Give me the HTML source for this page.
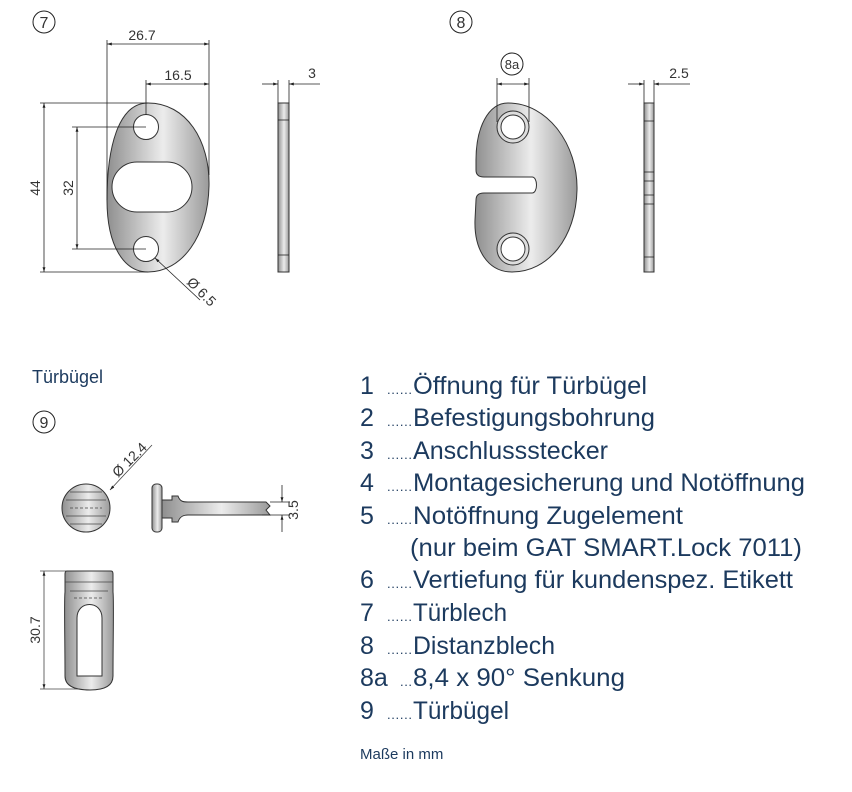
<!DOCTYPE html>
<html><head><meta charset="utf-8"><style>
html,body{margin:0;padding:0;background:#fff;width:852px;height:792px;overflow:hidden}
svg{display:block}
.t{font-family:"Liberation Sans",sans-serif;fill:#1c3a5e}
.d{font-family:"Liberation Sans",sans-serif;fill:#333;font-size:14px}
</style></head><body>
<svg width="852" height="792" viewBox="0 0 852 792" xmlns="http://www.w3.org/2000/svg">
<defs>
<linearGradient id="g" x1="0" x2="1" y1="0" y2="0">
<stop offset="0" stop-color="#8f8f8f"/><stop offset="0.55" stop-color="#ececec"/><stop offset="1" stop-color="#9a9a9a"/>
</linearGradient>
<marker id="a" viewBox="0 0 10 10" refX="10" refY="5" markerWidth="6" markerHeight="6" orient="auto-start-reverse"><path d="M0,2 L10,5 L0,8 z" fill="#222"/></marker>
</defs>
<g stroke="#222" stroke-width="1" fill="none">
<circle cx="44" cy="22" r="11"/><circle cx="461" cy="22" r="11"/><circle cx="512" cy="64" r="11"/><circle cx="44" cy="422" r="11"/>
</g>
<g class="d" fill="#333" text-anchor="middle">
<text x="44" y="28" style="font-size:16px">7</text>
<text x="461" y="28" style="font-size:16px">8</text>
<text x="512" y="69" style="font-size:13px">8a</text>
<text x="44" y="428" style="font-size:16px">9</text>
</g>

<!-- Part 7 -->
<path d="M148,103 C186,103 210,140 209,186 C208,236 182,272 148,272 C124,272 107,246 107,200 C107,148 118,103 148,103 Z" fill="url(#g)" stroke="#333"/>
<circle cx="146" cy="127" r="12.5" fill="#fff" stroke="#333"/>
<circle cx="146" cy="249" r="12.5" fill="#fff" stroke="#333"/>
<rect x="112" y="162" width="80" height="50" rx="25" fill="#fff" stroke="#333"/>
<g stroke="#222" stroke-width="0.8" fill="none">
<line x1="107" y1="40" x2="107" y2="200"/><line x1="209" y1="40" x2="209" y2="175"/>
<line x1="107" y1="44" x2="209" y2="44" marker-start="url(#a)" marker-end="url(#a)"/>
<line x1="146" y1="80" x2="146" y2="115"/>
<line x1="146" y1="84" x2="209" y2="84" marker-start="url(#a)" marker-end="url(#a)"/>
<line x1="40" y1="103" x2="148" y2="103"/><line x1="40" y1="272" x2="148" y2="272"/>
<line x1="44" y1="103" x2="44" y2="272" marker-start="url(#a)" marker-end="url(#a)"/>
<line x1="72" y1="127" x2="146" y2="127"/><line x1="72" y1="249" x2="146" y2="249"/>
<line x1="77" y1="127" x2="77" y2="249" marker-start="url(#a)" marker-end="url(#a)"/>
<line x1="200" y1="300" x2="155" y2="258" marker-end="url(#a)"/>
</g>
<text class="d" x="142" y="40" text-anchor="middle">26.7</text>
<text class="d" x="178" y="80" text-anchor="middle">16.5</text>
<text class="d" transform="translate(40,188) rotate(-90)" text-anchor="middle">44</text>
<text class="d" transform="translate(73,188) rotate(-90)" text-anchor="middle">32</text>
<text class="d" transform="translate(186,283) rotate(45)">Ø 6.5</text>

<rect x="278" y="103" width="11" height="169" fill="url(#g)" stroke="#333"/>
<g stroke="#222" stroke-width="0.8">
<line x1="278" y1="120" x2="289" y2="120"/><line x1="278" y1="255" x2="289" y2="255"/>
<line x1="278" y1="80" x2="278" y2="103"/><line x1="289" y1="80" x2="289" y2="103"/>
<line x1="262" y1="84" x2="278" y2="84" marker-end="url(#a)"/><line x1="320" y1="84" x2="289" y2="84" marker-end="url(#a)"/>
</g>
<text class="d" x="312" y="78" text-anchor="middle">3</text>

<!-- Part 8 -->
<path d="M508,103 C548,103 578,145 577,190 C576,238 548,272 512,272 C488,272 474,250 475,220 L476,200 C476,195 479,193 484,193 L532,193 C538,193 538,177 532,177 L484,177 C479,177 476,175 476,170 L476,160 C476,128 488,103 508,103 Z" fill="url(#g)" stroke="#333"/>
<circle cx="513" cy="127" r="16" fill="#ddd" stroke="#333"/><circle cx="513" cy="127" r="12" fill="#fff" stroke="#333"/>
<circle cx="513" cy="249" r="16" fill="#ddd" stroke="#333"/><circle cx="513" cy="249" r="12" fill="#fff" stroke="#333"/>
<g stroke="#222" stroke-width="0.8">
<line x1="497" y1="78" x2="497" y2="122"/><line x1="529" y1="78" x2="529" y2="122"/>
<line x1="497" y1="84" x2="529" y2="84" marker-start="url(#a)" marker-end="url(#a)"/>
</g>
<rect x="644" y="103" width="10" height="169" fill="url(#g)" stroke="#333"/>
<g stroke="#222" stroke-width="0.8">
<line x1="644" y1="121" x2="654" y2="121"/><line x1="644" y1="172" x2="654" y2="172"/><line x1="644" y1="181" x2="654" y2="181"/>
<line x1="644" y1="195" x2="654" y2="195"/><line x1="644" y1="204" x2="654" y2="204"/><line x1="644" y1="257" x2="654" y2="257"/>
<line x1="644" y1="80" x2="644" y2="103"/><line x1="654" y1="80" x2="654" y2="103"/>
<line x1="628" y1="84" x2="644" y2="84" marker-end="url(#a)"/><line x1="690" y1="84" x2="654" y2="84" marker-end="url(#a)"/>
</g>
<text class="d" x="679" y="78" text-anchor="middle">2.5</text>

<!-- Türbügel -->
<text class="t" x="32" y="383" style="font-size:18px">Türbügel</text>
<circle cx="86" cy="508" r="24" fill="url(#g)" stroke="#333"/>
<g stroke="#444" stroke-width="0.8" fill="none">
<line x1="70" y1="492" x2="102" y2="492"/><line x1="66" y1="500" x2="106" y2="500"/>
<line x1="66" y1="516" x2="106" y2="516"/><line x1="70" y1="524" x2="102" y2="524"/>
<line x1="70" y1="508" x2="102" y2="508" stroke-dasharray="3,2"/>
<line x1="152" y1="445" x2="110" y2="490" marker-end="url(#a)"/>
</g>
<text class="d" transform="translate(118,478) rotate(-45)">Ø 12.4</text>
<rect x="152" y="484" width="10" height="48" rx="4" fill="url(#g)" stroke="#333"/>
<path d="M162,500 L172,500 L172,496 L178,496 C180,502 184,502 188,502 L266,502 L270,506 L266,510 L270,515 L188,515 C184,515 180,516 178,522 L172,522 L172,518 L162,518 Z" fill="url(#g)" stroke="#333"/>
<g stroke="#222" stroke-width="0.8">
<line x1="270" y1="502" x2="290" y2="502"/><line x1="262" y1="515" x2="290" y2="515"/>
<line x1="282" y1="485" x2="282" y2="502" marker-end="url(#a)"/><line x1="282" y1="532" x2="282" y2="515" marker-end="url(#a)"/>
</g>
<text class="d" transform="translate(298,510) rotate(-90)" text-anchor="middle">3.5</text>
<path d="M67,571 L111,571 C113,571 113,573 113,575 L113,592 C114,600 113,640 113,676 C113,686 104,690 90,690 C74,690 65,686 65,676 C65,640 64,600 65,592 L65,575 C65,573 65,571 67,571 Z" fill="url(#g)" stroke="#333"/>
<path d="M77,676 L77,618 C77,600 102,600 102,618 L102,676 Z" fill="#fff" stroke="#333"/>
<g stroke="#444" stroke-width="0.8" fill="none">
<line x1="65" y1="582" x2="113" y2="582"/><line x1="70" y1="591" x2="108" y2="591"/>
<line x1="74" y1="598" x2="104" y2="598" stroke-dasharray="3,2"/>
<line x1="40" y1="571" x2="67" y2="571"/><line x1="40" y1="689" x2="80" y2="689"/>
<line x1="44" y1="571" x2="44" y2="689" marker-start="url(#a)" marker-end="url(#a)"/>
</g>
<text class="d" transform="translate(40,630) rotate(-90)" text-anchor="middle">30.7</text>

<!-- legend -->
<g class="t" style="font-size:25px">
<text x="360" y="394">1</text><text x="387" y="394" style="font-size:13px" textLength="25" lengthAdjust="spacing">......</text><text x="413" y="394" textLength="234" lengthAdjust="spacingAndGlyphs">Öffnung für Türbügel</text>
<text x="360" y="426">2</text><text x="387" y="426" style="font-size:13px" textLength="25" lengthAdjust="spacing">......</text><text x="413" y="426" textLength="242" lengthAdjust="spacingAndGlyphs">Befestigungsbohrung</text>
<text x="360" y="459">3</text><text x="387" y="459" style="font-size:13px" textLength="25" lengthAdjust="spacing">......</text><text x="413" y="459" textLength="195" lengthAdjust="spacingAndGlyphs">Anschlussstecker</text>
<text x="360" y="491">4</text><text x="387" y="491" style="font-size:13px" textLength="25" lengthAdjust="spacing">......</text><text x="413" y="491" textLength="392" lengthAdjust="spacingAndGlyphs">Montagesicherung und Notöffnung</text>
<text x="360" y="524">5</text><text x="387" y="524" style="font-size:13px" textLength="25" lengthAdjust="spacing">......</text><text x="413" y="524" textLength="270" lengthAdjust="spacingAndGlyphs">Notöffnung Zugelement</text>
<text x="410" y="556" textLength="392" lengthAdjust="spacingAndGlyphs">(nur beim GAT SMART.Lock 7011)</text>
<text x="360" y="588">6</text><text x="387" y="588" style="font-size:13px" textLength="25" lengthAdjust="spacing">......</text><text x="413" y="588" textLength="380" lengthAdjust="spacingAndGlyphs">Vertiefung für kundenspez. Etikett</text>
<text x="360" y="621">7</text><text x="387" y="621" style="font-size:13px" textLength="25" lengthAdjust="spacing">......</text><text x="413" y="621" textLength="94" lengthAdjust="spacingAndGlyphs">Türblech</text>
<text x="360" y="654">8</text><text x="387" y="654" style="font-size:13px" textLength="25" lengthAdjust="spacing">......</text><text x="413" y="654" textLength="142" lengthAdjust="spacingAndGlyphs">Distanzblech</text>
<text x="360" y="686">8a</text><text x="400" y="686" style="font-size:13px" textLength="12" lengthAdjust="spacing">...</text><text x="413" y="686" textLength="212" lengthAdjust="spacingAndGlyphs">8,4 x 90° Senkung</text>
<text x="360" y="719">9</text><text x="387" y="719" style="font-size:13px" textLength="25" lengthAdjust="spacing">......</text><text x="413" y="719" textLength="96" lengthAdjust="spacingAndGlyphs">Türbügel</text>
</g>
<text class="t" x="360" y="759" style="font-size:15px">Maße in mm</text>
</svg>
</body></html>
